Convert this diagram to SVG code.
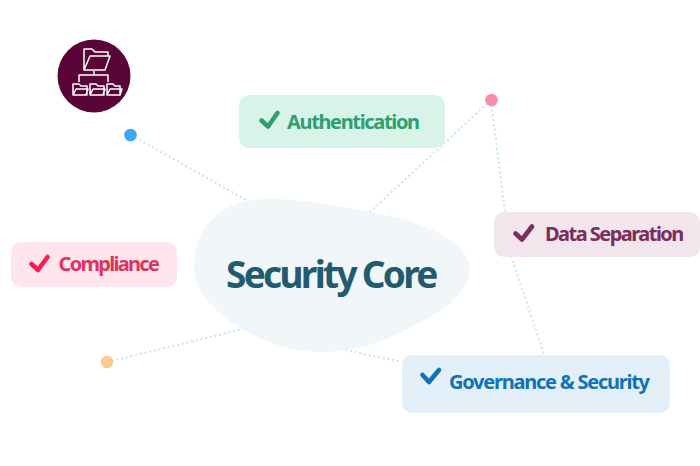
<svg xmlns="http://www.w3.org/2000/svg" width="700" height="466" viewBox="0 0 700 466">
<style>
.lbl{font-family:"Noto Sans","Open Sans","Liberation Sans",sans-serif;font-weight:700;font-size:20px}
.core{font-family:"Noto Sans","Open Sans","Liberation Sans",sans-serif;font-weight:700;font-size:37px;letter-spacing:-2.7px;fill:#225b6e}
.chk{fill:none;stroke-width:4.6;stroke-linecap:round;stroke-linejoin:round}
.conn{fill:none;stroke:#cbe9fb;stroke-width:2.2;stroke-dasharray:2.2 2.6}
.ico{fill:none;stroke:#fff;stroke-width:1.5;stroke-linejoin:round}
</style>
<rect width="700" height="466" fill="#fff"/>
<g id="connectors">
<path class="conn" d="M131 135L248 201"/>
<path class="conn" d="M491 100L369 213"/>
<path class="conn" d="M491 100L505 212"/>
<path class="conn" d="M511 256L544 354"/>
<path class="conn" d="M107 362L243 329"/>
<path class="conn" d="M345 350L402 362"/>
</g>
<g id="security-core">
<path d="M194 266C194 226 222 199 268 199C305 199 345 207 385 215C440 226 471 250 470 270C468 296 440 312 408 329C376 346 345 353 315 352C280 350 245 335 222 315C204 300 194 285 194 266Z" fill="#f1f6f9"/>
<text class="core" x="226" y="288">Security Core</text>
</g>
<g id="icon-node">
<circle cx="94" cy="76" r="36.500" fill="#5a0537"/>
<path class="ico" d="M84 70V49H92L95 52H108V56M84 70L90 56H110L105 70Z"/>
<path class="ico" d="M94 71V75M79 82V75H108V82"/>
<path class="ico" d="M73 95V84H79L81 86H87V95ZM73 95L76 89H88L86 95Z"/>
<path class="ico" d="M90 95V84H96L98 86H104V95ZM90 95L93 89H105L103 95Z"/>
<path class="ico" d="M107 95V84H113L115 86H120V95ZM107 95L110 89H122L120 95Z"/>
</g>
<g id="dot-blue"><circle cx="130.500" cy="135" r="6.300" fill="#3ba9f2"/></g>
<g id="dot-pink"><circle cx="491.500" cy="100" r="6.300" fill="#fd8aab"/></g>
<g id="dot-orange"><circle cx="107" cy="362" r="6.300" fill="#fdc894"/></g>
<g id="authentication">
<rect x="239" y="95" width="206" height="53" rx="10" fill="#d8f4e8"/>
<path class="chk" stroke="#2f9f72" d="M261.500 120.500L268 126.500L277.500 113"/>
<text class="lbl" x="287" y="129" fill="#2f9f72" letter-spacing="-1.35">Authentication</text>
</g>
<g id="data-separation">
<rect x="494" y="212" width="206" height="45" rx="10" fill="#f2e6ec"/>
<path class="chk" stroke="#7d2c60" d="M515.500 233.500L522 239.500L532 226.500"/>
<text class="lbl" x="545" y="241" fill="#7d2c60" letter-spacing="-1.53">Data Separation</text>
</g>
<g id="compliance">
<rect x="11" y="242" width="166" height="45" rx="10" fill="#fee6ec"/>
<path class="chk" stroke="#fb1a55" d="M31.500 264L38 270L47.500 257"/>
<text class="lbl" x="58.500" y="271" fill="#dc3560" letter-spacing="-1.7">Compliance</text>
</g>
<g id="governance">
<rect x="402" y="355" width="268" height="58" rx="10" fill="#e4f0f9"/>
<path class="chk" stroke="#0f72ba" d="M422.500 375L429 382L439 370"/>
<text class="lbl" x="449" y="389" fill="#0f72ba" letter-spacing="-1.24">Governance &amp; Security</text>
</g>
</svg>
